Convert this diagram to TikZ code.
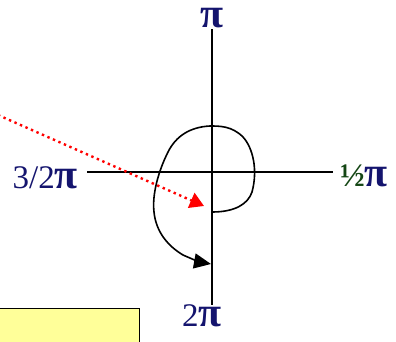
\documentclass[tikz,border=0pt]{standalone}
\usepackage{fontspec}
\setmainfont{Liberation Serif}
\usetikzlibrary{positioning, arrows.meta}
\definecolor{navy}{RGB}{20,20,110}
\definecolor{leaf}{RGB}{20,70,20}
\definecolor{notepad}{RGB}{255,255,153}
\newcommand{\halfturn}{{\fontsize{42}{42}\selectfont\textbf{π}}}
\tikzset{
  axis/.style={black, line width=1.8pt},
  angle/.style={navy, font=\fontsize{33}{33}\selectfont, inner sep=1pt},
  turn/.style={black, line width=1.6pt, -{Triangle[length=17pt,width=15pt]}},
  hint/.style={red, line width=2.4pt, dash pattern=on 2.4pt off 3.6pt,
    -{Triangle[length=14pt,width=16pt]}},
}
\begin{document}
\begin{tikzpicture}[x=1pt, y=-1pt]
  \useasboundingbox (0,0) rectangle (396,341);
  % axes
  \coordinate (top) at (212,29);
  \coordinate (bottom) at (212,305);
  \coordinate (left) at (87,172);
  \coordinate (right) at (333,172);
  \draw[axis] (top) -- (bottom);
  \draw[axis] (left) -- (right);
  \node[angle, inner sep=0pt, above=1pt of top] (pi) {\halfturn};
  \node[angle, below=-2pt of bottom, xshift=-10pt] (twopi) {2\halfturn};
  \node[angle, left=8pt of left, yshift=-6pt] (threehalf) {3/2\halfturn};
  \node[angle, right=6pt of right, yshift=-4pt] (half) {\textcolor{leaf}{\textbf{½}}\halfturn};
  % rotation path
  \coordinate (start) at (212,212);
  \coordinate (stop) at (211,264);
  \draw[turn] (start) .. controls (235,212) and (248,204) .. (252,192)
    .. controls (258,170) and (253,148) .. (243,137)
    .. controls (232,126) and (220,126) .. (210,126)
    .. controls (190,127) and (176,136) .. (168,152)
    .. controls (158,172) and (152,195) .. (154,212)
    .. controls (156,232) and (168,246) .. (183,255)
    .. controls (192,259) and (200,262) .. (stop);
  % pointer from outside
  \coordinate (from) at (-2,115);
  \coordinate (to) at (204,206);
  \draw[hint] (from) -- (to);
  % note box, cut off at the bottom
  \node[draw=black, line width=1.2pt, fill=notepad, minimum width=142pt,
    minimum height=40pt, anchor=north west] (note) at (-3,308) {};
\end{tikzpicture}
\end{document}
